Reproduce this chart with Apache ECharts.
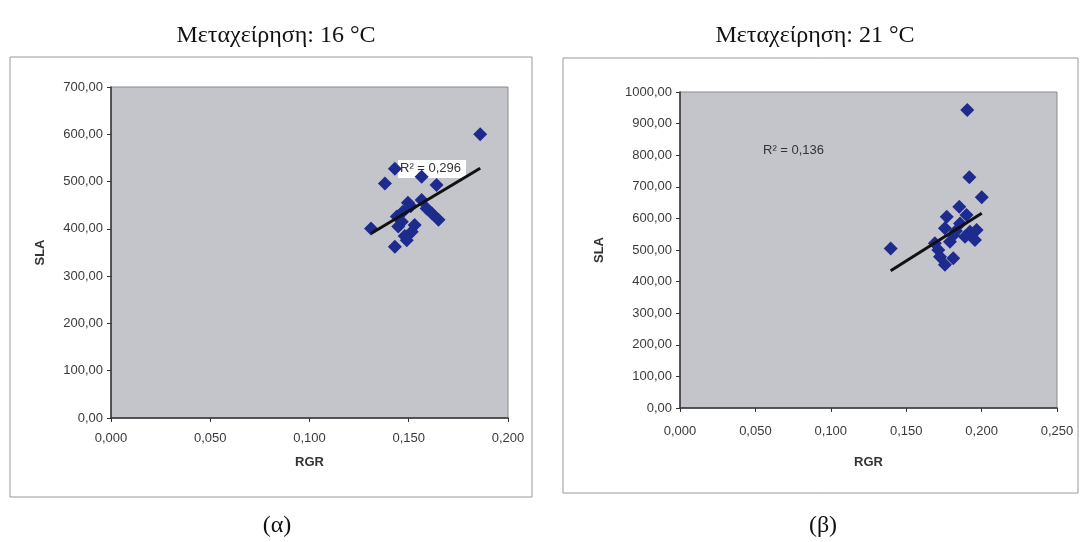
<!DOCTYPE html>
<html>
<head>
<meta charset="utf-8">
<script src="https://cdn.jsdelivr.net/npm/echarts@6/dist/echarts.min.js"></script>
<style>
  html, body { margin:0; padding:0; background:#fff; }
  #main { width:1082px; height:542px; }
</style>
</head>
<body>
<div id="main"></div>
<script>
  // 16 °C : [RGR, SLA]
  var pts16 = [
    [0.186, 600], [0.138, 496], [0.143, 527], [0.131, 401], [0.143, 362],
    [0.149, 376], [0.1515, 394], [0.1447, 405], [0.144, 426], [0.147, 436],
    [0.1496, 455], [0.1465, 415], [0.1565, 461], [0.159, 443], [0.1616, 433],
    [0.165, 419], [0.164, 493], [0.1565, 510], [0.153, 408], [0.151, 448],
    [0.148, 385]
  ];
  // 21 °C : [RGR, SLA]
  var pts21 = [
    [0.1905, 943], [0.1919, 730], [0.2001, 667], [0.1397, 505], [0.1769, 605],
    [0.1852, 637], [0.190, 611], [0.1757, 569], [0.1812, 547], [0.1923, 558],
    [0.1956, 532], [0.1713, 500], [0.1724, 479], [0.1757, 453], [0.1812, 474],
    [0.179, 526], [0.1857, 584], [0.189, 542], [0.1967, 563], [0.169, 521],
    [0.183, 560]
  ];
  // linear trend lines (end points)
  var trend16 = [[0.131, 390], [0.186, 528]];
  var trend21 = [[0.1397, 434], [0.2001, 616]];

  var titles = ['Μεταχείρηση: 16 °C', 'Μεταχείρηση: 21 °C'];
  var captions = ['(α)', '(β)'];
  var r2Text = ['R² = 0,296', 'R² = 0,136'];

  var chart = echarts.init(document.getElementById('main'));

  var markerColor = '#1d2b8e';
  var plotBg = '#c4c5cb';
  var serif = { fontFamily: 'Liberation Serif', fontSize: 24, fontWeight: 'normal', color: '#111' };

  function xAxisCfg(idx, max, gap, margin) {
    return {
      gridIndex: idx, type: 'value', min: 0, max: max, interval: 0.05,
      name: 'RGR', nameLocation: 'middle', nameGap: gap,
      nameTextStyle: { fontFamily: 'Liberation Sans', fontWeight: 'bold', fontSize: 13, color: '#333' },
      axisLine: { lineStyle: { color: '#333', width: 1.5 } },
      axisTick: { show: true, length: 4, lineStyle: { color: '#333' } },
      axisLabel: { fontFamily: 'Liberation Sans', fontSize: 13, color: '#3a3a3a', margin: margin,
        formatter: function (v) { return v.toFixed(3).replace('.', ','); } },
      splitLine: { show: false }
    };
  }
  function yAxisCfg(idx, max, gap) {
    return {
      gridIndex: idx, type: 'value', min: 0, max: max, interval: 100,
      name: 'SLA', nameLocation: 'middle', nameGap: gap,
      nameTextStyle: { fontFamily: 'Liberation Sans', fontWeight: 'bold', fontSize: 13, color: '#333' },
      axisLine: { show: true, lineStyle: { color: '#333', width: 1.5 } },
      axisTick: { show: true, length: 4, lineStyle: { color: '#333' } },
      axisLabel: { fontFamily: 'Liberation Sans', fontSize: 13, color: '#3a3a3a', margin: 8,
        formatter: function (v) { return v.toFixed(2).replace('.', ','); } },
      splitLine: { show: false }
    };
  }

  var option = {
    backgroundColor: '#fff',
    animation: false,
    title: [
      { text: titles[0], left: 271, top: 19, textAlign: 'center', textStyle: serif },
      { text: titles[1], left: 810, top: 19, textAlign: 'center', textStyle: serif },
      { text: captions[0], left: 272, top: 509, textAlign: 'center', textStyle: serif },
      { text: captions[1], left: 818, top: 509, textAlign: 'center', textStyle: serif }
    ],
    graphic: [
      { type: 'rect', shape: { x: 10, y: 57, width: 522, height: 440 }, z: -10,
        style: { fill: '#fff', stroke: '#999', lineWidth: 1 } },
      { type: 'rect', shape: { x: 563, y: 58, width: 515, height: 435 }, z: -10,
        style: { fill: '#fff', stroke: '#999', lineWidth: 1 } },
      { type: 'group', left: 398, top: 160, z: 100, children: [
        { type: 'rect', shape: { x: 0, y: 0, width: 68, height: 18 }, style: { fill: '#fff' } },
        { type: 'text', x: 2, y: 2, style: { text: r2Text[0], font: '13px "Liberation Sans"', fill: '#333' } }
      ] },
      { type: 'text', left: 763, top: 144, z: 100,
        style: { text: r2Text[1], font: '13px "Liberation Sans"', fill: '#333' } }
    ],
    grid: [
      { left: 111, top: 87, width: 397, height: 331, show: true,
        backgroundColor: plotBg, borderColor: '#8a8a8a', borderWidth: 1 },
      { left: 680, top: 92, width: 377, height: 316, show: true,
        backgroundColor: plotBg, borderColor: '#8a8a8a', borderWidth: 1 }
    ],
    xAxis: [xAxisCfg(0, 0.2, 38, 14), xAxisCfg(1, 0.25, 48, 17)],
    yAxis: [yAxisCfg(0, 700, 64), yAxisCfg(1, 1000, 74)],
    series: [
      { type: 'scatter', xAxisIndex: 0, yAxisIndex: 0, data: pts16,
        symbol: 'diamond', symbolSize: 14, itemStyle: { color: markerColor, opacity: 1 } },
      { type: 'line', xAxisIndex: 0, yAxisIndex: 0, data: trend16, showSymbol: false,
        lineStyle: { color: '#111', width: 3 }, z: 5 },
      { type: 'scatter', xAxisIndex: 1, yAxisIndex: 1, data: pts21,
        symbol: 'diamond', symbolSize: 14, itemStyle: { color: markerColor, opacity: 1 } },
      { type: 'line', xAxisIndex: 1, yAxisIndex: 1, data: trend21, showSymbol: false,
        lineStyle: { color: '#111', width: 3 }, z: 5 }
    ]
  };

  chart.setOption(option);
</script>
</body>
</html>
